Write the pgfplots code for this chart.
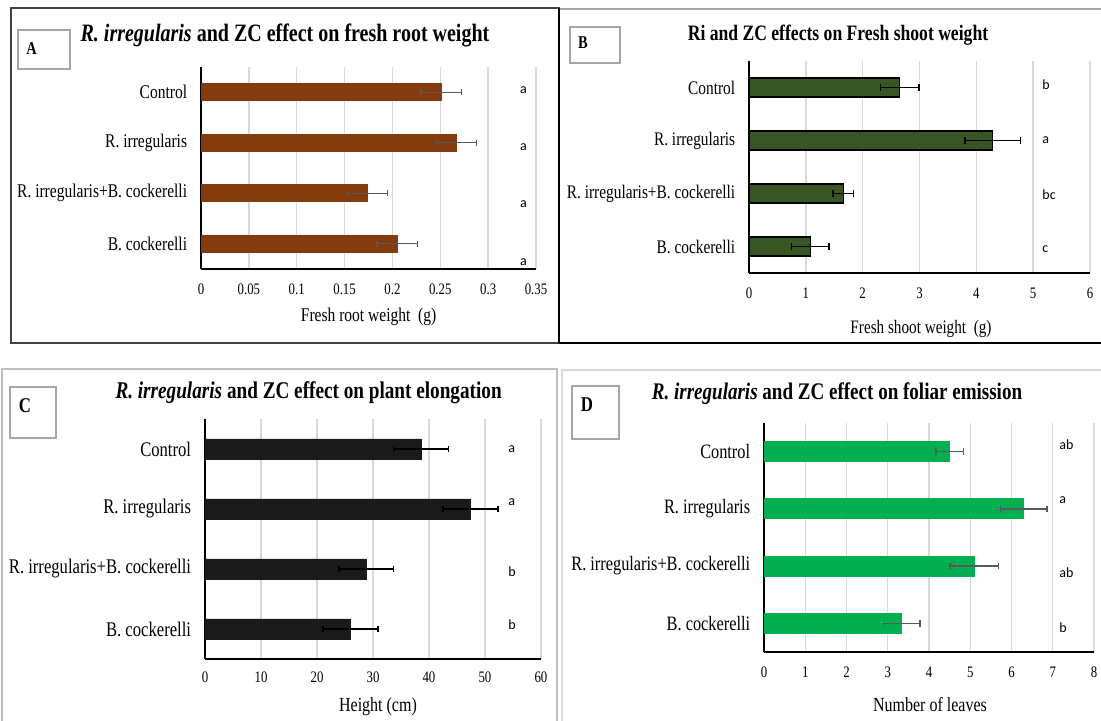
\documentclass[border=0pt]{standalone}
\usepackage{fontspec}
\setmainfont{Liberation Serif}[FakeStretch=0.8]
\newfontfamily\calib{Carlito}
\usepackage{pgfplots}
\usepackage{pgfplotstable}
\pgfplotsset{compat=1.18}
\definecolor{brownA}{HTML}{843C0C}
\definecolor{greenB}{HTML}{375623}
\definecolor{blackC}{HTML}{1A1A1A}
\definecolor{greenD}{HTML}{00B050}
\definecolor{errgray}{HTML}{595959}
\definecolor{gridgray}{HTML}{D9D9D9}
\definecolor{framegray}{HTML}{BFBFBF}
\definecolor{boxgray}{HTML}{A6A6A6}
\definecolor{darkframe}{HTML}{404040}

\pgfplotstableread{
pos val err
0 0.251 0.021
1 0.267 0.021
2 0.174 0.021
3 0.205 0.021
}\dataA
\pgfplotstableread{
pos val err
0 2.65 0.34
1 4.29 0.49
2 1.66 0.18
3 1.08 0.33
}\dataB
\pgfplotstableread{
pos val err
0 38.6 4.9
1 47.4 4.9
2 28.8 4.9
3 26.0 4.9
}\dataC
\pgfplotstableread{
pos val err
0 4.50 0.33
1 6.30 0.56
2 5.10 0.59
3 3.34 0.44
}\dataD

\pgfplotsset{
  panel/.style={
    xbar, scale only axis, y dir=reverse,
    ymin=-0.5, ymax=3.5,
    ytick={0,1,2,3},
    yticklabels={Control,R. irregularis,R. irregularis+B. cockerelli,B. cockerelli},
    axis x line*=bottom, axis y line*=left,
    x axis line style={-, line width=0.6bp, black},
    y axis line style={-, line width=0.6bp, black},
    xmajorgrids, major grid style={draw=gridgray, line width=0.7bp},
    major tick length=0pt, tick style={draw=none},
    xmin=0,
    /pgf/number format/assume math mode=true,
    xticklabel style={anchor=center, inner sep=0pt, yshift=-10bp, font=\fontsize{8bp}{9bp}\selectfont},
    yticklabel style={anchor=east, inner sep=0pt, xshift=-6.75bp},
    clip=false,
  },
}

\begin{document}
\begin{tikzpicture}[x=0.5bp,y=0.5bp]
\useasboundingbox (0,0) rectangle (1101,721);
\clip (0,0) rectangle (1101,721);

% ---------------- Panel A
\begin{axis}[panel, at={(100.5bp,226bp)}, anchor=south west,
  width=167.5bp, height=101bp, xmax=0.35,
  xtick={0,0.05,0.1,0.15,0.2,0.25,0.3,0.35},
  xticklabels={0,0.05,0.1,0.15,0.2,0.25,0.3,0.35},
  bar width=8.5bp,
  yticklabel style={font=\fontsize{9.7bp}{11bp}\selectfont}]
\addplot[xbar, fill=brownA, draw=brownA,
  error bars/.cd, x dir=both, x explicit,
  error bar style={errgray, line width=0.7bp},
  error mark options={rotate=90, errgray, mark size=1.4bp, line width=0.7bp}]
  table[x=val, y=pos, x error=err] {\dataA};
\end{axis}

% ---------------- Panel B
\begin{axis}[panel, at={(374.5bp,224bp)}, anchor=south west,
  width=170.5bp, height=106bp, xmax=6,
  xtick={0,1,2,3,4,5,6},
  xticklabels={0,1,2,3,4,5,6},
  bar width=9.5bp,
  yticklabel style={font=\fontsize{9.6bp}{11bp}\selectfont}]
\addplot[xbar, fill=greenB, draw=black, line width=0.6bp,
  error bars/.cd, x dir=both, x explicit,
  error bar style={black, line width=0.7bp},
  error mark options={rotate=90, black, mark size=1.6bp, line width=0.7bp}]
  table[x=val, y=pos, x error=err] {\dataB};
\end{axis}

% ---------------- Panel C
\begin{axis}[panel, at={(102.5bp,31bp)}, anchor=south west,
  width=168bp, height=120bp, xmax=60,
  xtick={0,10,20,30,40,50,60},
  xticklabels={0,10,20,30,40,50,60},
  xticklabel style={yshift=1bp},
  bar width=10bp,
  yticklabel style={font=\fontsize{10.4bp}{12bp}\selectfont}]
\addplot[xbar, fill=blackC, draw=blackC,
  error bars/.cd, x dir=both, x explicit,
  error bar style={black, line width=0.7bp},
  error mark options={rotate=90, black, mark size=1.6bp, line width=0.7bp}]
  table[x=val, y=pos, x error=err] {\dataC};
\end{axis}

% ---------------- Panel D
\begin{axis}[panel, at={(382bp,34.5bp)}, anchor=south west,
  width=165bp, height=114.5bp, xmax=8,
  xtick={0,1,2,3,4,5,6,7,8},
  xticklabels={0,1,2,3,4,5,6,7,8},
  bar width=10bp,
  yticklabel style={font=\fontsize{10.2bp}{12bp}\selectfont}]
\addplot[xbar, fill=greenD, draw=greenD,
  error bars/.cd, x dir=both, x explicit,
  error bar style={errgray, line width=0.7bp},
  error mark options={rotate=90, errgray, mark size=1.6bp, line width=0.7bp}]
  table[x=val, y=pos, x error=err] {\dataD};
\end{axis}

% ---------------- frames
\draw[darkframe, line width=1bp] (11,713) rectangle (559,378);
\draw[boxgray, line width=0.8bp] (559,712) -- (1110,712);
\draw[black, line width=1bp] (559,378) -- (1110,378);
\draw[black, line width=1bp] (559,713) -- (559,378);
\draw[framegray, line width=0.8bp] (2,352) rectangle (557,-10);
\draw[gridgray, line width=0.8bp] (562,351) rectangle (1110,-10);

% label boxes
\draw[boxgray, line width=0.8bp] (18,691) rectangle (70,652);
\draw[boxgray, line width=0.8bp] (570,694) rectangle (620,658);
\draw[boxgray, line width=0.8bp] (10,334) rectangle (56,283);
\draw[boxgray, line width=0.8bp] (572,335) rectangle (619,282);
\node[font=\fontsize{9bp}{10bp}\selectfont\bfseries, inner sep=0pt] at (31.6,672) {A};
\node[font=\fontsize{9bp}{10bp}\selectfont\bfseries, inner sep=0pt] at (583,678) {B};
\node[font=\fontsize{10.5bp}{12bp}\selectfont\bfseries, inner sep=0pt] at (25,315) {C};
\node[font=\fontsize{10.5bp}{12bp}\selectfont\bfseries, inner sep=0pt] at (587,316) {D};

% titles
\node[font=\fontsize{12.5bp}{14bp}\selectfont\bfseries, inner sep=0pt] at (285,686) {\textit{R. irregularis} and ZC effect on fresh root weight};
\node[font=\fontsize{11bp}{13bp}\selectfont\bfseries, inner sep=0pt] at (838,686) {Ri and ZC effects on Fresh shoot weight};
\node[font=\fontsize{12bp}{14bp}\selectfont\bfseries, inner sep=0pt] at (308.6,328) {\textit{R. irregularis} and ZC effect on plant elongation};
\node[font=\fontsize{11.9bp}{14bp}\selectfont\bfseries, inner sep=0pt] at (837,327) {\textit{R. irregularis} and ZC effect on foliar emission};

% axis titles
\node[font=\fontsize{9.7bp}{11bp}\selectfont, inner sep=0pt] at (368.6,404) {Fresh root weight\ \ (g)};
\node[font=\fontsize{9.5bp}{11bp}\selectfont, inner sep=0pt] at (921,392) {Fresh shoot weight\ \ (g)};
\node[font=\fontsize{10bp}{12bp}\selectfont, inner sep=0pt] at (378,14) {Height (cm)};
\node[font=\fontsize{10bp}{12bp}\selectfont, inner sep=0pt] at (930,16) {Number of leaves};

% significance letters
\begin{scope}[every node/.style={font=\calib\fontsize{7bp}{8bp}\selectfont, inner sep=0pt, anchor=west}]
\node at (519.6,631) {a};
\node at (519.6,574.3) {a};
\node at (519.6,517) {a};
\node at (519.6,458.5) {a};
\node at (1042,636) {b};
\node at (1042,581) {a};
\node at (1042,526) {bc};
\node at (1042,471.4) {c};
\node at (508,272) {a};
\node at (508,219.2) {a};
\node at (508,149.3) {b};
\node at (508,96) {b};
\node at (1059,276) {ab};
\node at (1059,221) {a};
\node at (1059,148.3) {ab};
\node at (1059,93) {b};
\end{scope}
\end{tikzpicture}
\end{document}
